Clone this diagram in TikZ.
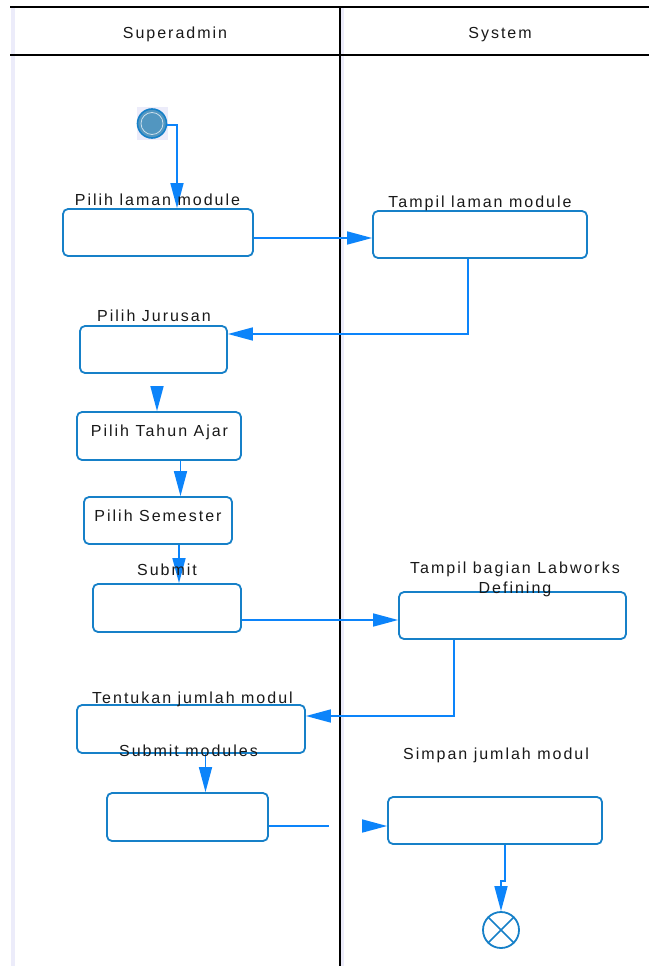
\documentclass[tikz,border=0pt]{standalone}
\usepackage{fontspec}
\setmainfont{Liberation Sans}[LetterSpace=12.5]
\usetikzlibrary{arrows.meta}

\definecolor{boxblue}{RGB}{22,128,200}
\definecolor{linkblue}{RGB}{12,132,250}
\definecolor{startfill}{RGB}{82,150,192}
\definecolor{lanetint}{RGB}{236,236,250}

\newcommand{\lblfont}{\fontsize{16}{19}\selectfont}

\tikzset{
  act/.style={draw=boxblue, line width=1.8pt, rounded corners=5pt, inner sep=0pt, fill=white},
  lbl/.style={anchor=base, inner sep=0pt, font=\lblfont, text=black!90},
  conn/.style={draw=linkblue, line width=1.6pt},
  arr/.style={conn, -{Triangle[length=25pt,width=13pt]}},
  lane/.style={draw=black, line width=2.2pt},
}

\begin{document}
\begin{tikzpicture}[x=1pt, y=-1pt]
  \useasboundingbox (0,0) rectangle (649,966);
  \fill[white] (0,0) rectangle (649,966);

  % swimlane frame
  \fill[lanetint] (11,8) rectangle (15,966);
  \fill[lanetint] (341,8) rectangle (344,966);
  \draw[lane] (10,7) -- (649,7);
  \draw[lane] (10,55) -- (649,55);
  \draw[black, line width=2pt] (339.5,7) -- (339.5,966);

  \node[lbl] (h1) at (175,38) {Superadmin};
  \node[lbl] (h2) at (500,38) {System};

  % initial state
  \fill[lanetint] (137,107) rectangle (168,140);
  \node[circle, draw=boxblue, line width=1.6pt, fill=startfill, minimum size=29pt, inner sep=0pt] (start) at (152,123.5) {};
  \draw[white!70!startfill, line width=0.8pt] (start.center) circle (11pt);

  % activities
  \node[act, minimum width=190pt, minimum height=47pt] (b1) at (158,232.5) {};
  \node[act, minimum width=214pt, minimum height=47pt] (b2) at (480,234.5) {};
  \node[act, minimum width=147pt, minimum height=47pt] (b3) at (153.5,349.5) {};
  \node[act, minimum width=164pt, minimum height=48pt] (b4) at (159,436) {};
  \node[act, minimum width=148pt, minimum height=47pt] (b5) at (158,520.5) {};
  \node[act, minimum width=148pt, minimum height=48pt] (b6) at (167,608) {};
  \node[act, minimum width=227pt, minimum height=47pt] (b7) at (512.5,615.5) {};
  \node[act, minimum width=228pt, minimum height=48pt] (b8) at (191,729) {};
  \node[act, minimum width=161pt, minimum height=48pt] (b9) at (187.5,817) {};
  \node[act, minimum width=214pt, minimum height=47pt] (b10) at (495,820.5) {};

  % final state
  \node[circle, draw=boxblue, line width=1.8pt, minimum size=36pt, inner sep=0pt] (endn) at (501,930) {};
  \draw[boxblue, line width=1.6pt] (endn.45) -- (endn.225) (endn.135) -- (endn.315);

  % flows
  \draw[arr] ([yshift=-1.5pt]start.east) -| ([xshift=19pt]b1.north);
  \draw[arr] ([yshift=-5.5pt]b1.east) -- ([yshift=-3.5pt]b2.west);
  \draw[arr] ([xshift=-12pt]b2.south) |- ([yshift=15.5pt]b3.east);
  \draw[arr, shorten <=13pt] ([xshift=3.5pt]b3.south) -- ([xshift=-2pt]b4.north);
  \draw[arr] ([xshift=21.5pt]b4.south) -- ([xshift=22.5pt]b5.north);
  \draw[arr] ([xshift=21pt]b5.south) -- ([xshift=12pt]b6.north);
  \draw[arr] ([yshift=-12pt]b6.east) -- ([yshift=-4.5pt]b7.west);
  \draw[arr] ([xshift=-58.5pt]b7.south) |- ([yshift=13pt]b8.east);
  \draw[arr] ([xshift=14.5pt]b8.south) -- ([xshift=18pt]b9.north);
  \coordinate (jgap1) at (329,826);
  \coordinate (jgap2) at (362,826);
  \draw[conn] ([yshift=-9pt]b9.east) -- (jgap1);
  \draw[arr] (jgap2) -- ([yshift=-5.5pt]b10.west);
  \coordinate (kbend) at (505,881);
  \draw[arr] ([xshift=10pt]b10.south) -- (kbend) -| (endn.north);

  % activity names
  \node[lbl] (l1) at (157.5,205) {Pilih laman module};
  \node[lbl] (l2) at (480,207) {Tampil laman module};
  \node[lbl] (l3) at (154,321) {Pilih Jurusan};
  \node[lbl] (t4) at (159.5,436) {Pilih Tahun Ajar};
  \node[lbl] (t5) at (158,521) {Pilih Semester};
  \node[lbl] (l6) at (167,575) {Submit};
  \node[lbl] (l7a) at (515,573) {Tampil bagian Labworks};
  \node[lbl] (l7b) at (515,593) {Defining};
  \node[lbl] (l8) at (192.5,703) {Tentukan jumlah modul};
  \node[lbl] (l9) at (188.5,756) {Submit modules};
  \node[lbl] (l10) at (496,759) {Simpan jumlah modul};
\end{tikzpicture}
\end{document}
